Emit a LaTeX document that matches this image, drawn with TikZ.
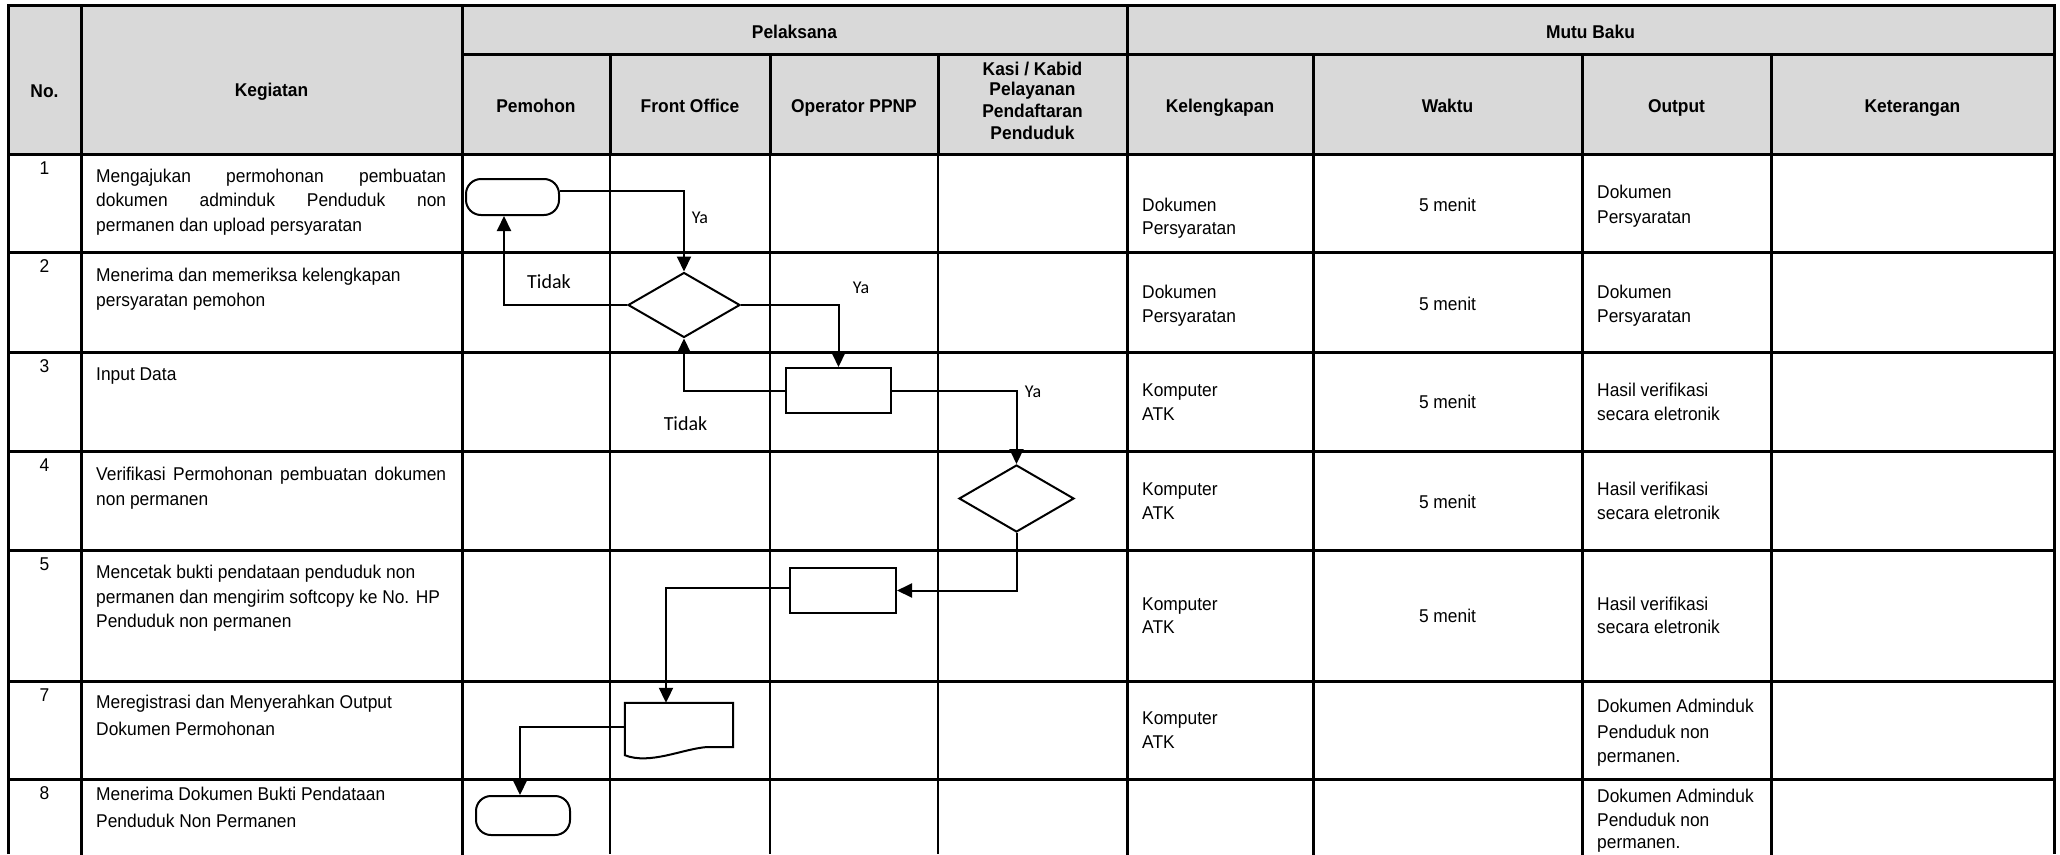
\documentclass[tikz,border=0pt]{standalone}
\usepackage{fontspec}
\setmainfont{Liberation Sans}[FakeStretch=0.94]
\newfontfamily\calib{Carlito}
\usetikzlibrary{shapes.geometric,arrows.meta,calc}
\definecolor{hdr}{HTML}{D9D9D9}
\newcounter{ln}
\newcommand\lnL[3]{\stepcounter{ln}\node[txt,anchor=base west] (L\theln) at (#1,#2) {#3};}
\newcommand\lnC[3]{\stepcounter{ln}\node[txt,anchor=base] (L\theln) at (#1,#2) {#3};}
\newcommand\lnH[3]{\stepcounter{ln}\node[txt,font=\fontsize{18.5}{22}\selectfont\bfseries,anchor=base] (L\theln) at (#1,#2) {#3};}
\begin{document}
\begin{tikzpicture}[x=1pt,y=-1pt,
  txt/.style={inner sep=0pt,font=\fontsize{18.5}{24}\selectfont},
  thickgrid/.style={line width=3pt,line cap=rect},
  thingrid/.style={line width=2pt},
  shp/.style={draw,line width=2pt,fill=white,inner sep=0pt},
  term/.style={shp,rectangle,rounded corners=15pt},
  proc/.style={shp,rectangle},
  dec/.style={shp,diamond},
  arr/.style={line width=2pt,-{Triangle[length=15pt,width=14pt]}},
  lab/.style={inner sep=0pt,font=\calib\fontsize{18}{20}\selectfont},
  labb/.style={inner sep=0pt,font=\calib\fontsize{20}{22}\selectfont},
  ]
\useasboundingbox (0,0) rectangle (2060,854);
\fill[hdr] (8,5) rectangle (2054,154);
% grid
\draw[line width=3pt] (8,854) -- (8,5) -- (2054,5) -- (2054,854);
\draw[thickgrid] (462,54) -- (2054,54);
\foreach \y in {154,252,352,451,550,681,779} \draw[thickgrid] (8,\y) -- (2054,\y);
\foreach \x in {81,462,1127} \draw[thickgrid] (\x,5) -- (\x,854);
\foreach \x in {1313,1582,1771} \draw[thickgrid] (\x,54) -- (\x,854);
\foreach \x in {610,770,938} {\draw[thickgrid] (\x,54) -- (\x,154); \draw[thingrid] (\x,154) -- (\x,854);}
% shapes
\node[term,minimum width=93pt,minimum height=36pt] (t1) at (512.5,197) {};
\node[dec,minimum width=112pt,minimum height=65pt] (d1) at (684,305) {};
\node[proc,minimum width=105pt,minimum height=45pt] (r1) at (838.5,390.5) {};
\node[dec,minimum width=115pt,minimum height=67pt] (d2) at (1016.5,498.5) {};
\node[proc,minimum width=106pt,minimum height=45pt] (r2) at (843,590.5) {};
\node[inner sep=0pt,minimum width=108pt,minimum height=52pt] (doc) at (679,729) {};
\draw[line width=2pt,fill=white] (doc.south west) -- (doc.north west) -- (doc.north east) -- ([yshift=8pt]doc.south east) -- (707,747) .. controls (682,749) and (650,765) .. (doc.south west) -- cycle;
\node[term,minimum width=94pt,minimum height=39pt] (t2) at (523,815.5) {};
% connectors
\draw[arr] ([yshift=6pt]t1.east) -| (d1.north);
\draw[arr] (d1.west) -| ([xshift=-8.5pt]t1.south);
\draw[arr] (d1.east) -| (r1.north);
\draw[arr] (r1.west) -| (d1.south);
\draw[arr] (r1.east) -| (d2.north);
\draw[arr] (d2.south) |- (r2.east);
\draw[arr] ([yshift=3pt]r2.west) -| ([xshift=-13pt]doc.north);
\draw[arr] ([yshift=2pt]doc.west) -| ([xshift=-3pt]t2.north);
% labels
\node[lab,anchor=base] (ya1) at (700,223) {Ya};
\node[labb,anchor=base] (td1) at (549,288) {Tidak};
\node[lab,anchor=base] (ya2) at (861,293) {Ya};
\node[labb,anchor=base] (td2) at (685.5,430) {Tidak};
\node[lab,anchor=base] (ya3) at (1033,397) {Ya};
% header
\lnH{44.5}{97}{No.}
\lnH{271.5}{96}{Kegiatan}
\lnH{794.5}{38}{Pelaksana}
\lnH{1590.5}{38}{Mutu Baku}
\lnH{536}{112}{Pemohon}
\lnH{690}{112}{Front Office}
\lnH{854}{112}{Operator PPNP}
\lnH{1032.5}{75}{Kasi / Kabid}
\lnH{1032.5}{95}{Pelayanan}
\lnH{1032.5}{117}{Pendaftaran}
\lnH{1032.5}{139}{Penduduk}
\lnH{1220}{112}{Kelengkapan}
\lnH{1447.5}{112}{Waktu}
\lnH{1676.5}{112}{Output}
\lnH{1912.5}{112}{Keterangan}
% numbers
\lnC{44.5}{174}{1}
\lnC{44.5}{272}{2}
\lnC{44.5}{372}{3}
\lnC{44.5}{471}{4}
\lnC{44.5}{570}{5}
\lnC{44.5}{701}{7}
\lnC{44.5}{799}{8}
% kegiatan
\lnL{96}{182}{\makebox[350pt][s]{Mengajukan permohonan pembuatan}}
\lnL{96}{206}{\makebox[350pt][s]{dokumen adminduk Penduduk non}}
\lnL{96}{231}{permanen dan upload persyaratan}
\lnL{96}{281}{Menerima dan memeriksa kelengkapan}
\lnL{96}{306}{persyaratan pemohon}
\lnL{96}{380}{Input Data}
\lnL{96}{480}{\makebox[350pt][s]{Verifikasi Permohonan pembuatan dokumen}}
\lnL{96}{505}{non permanen}
\lnL{96}{578}{Mencetak bukti pendataan penduduk non}
\lnL{96}{603}{permanen dan mengirim softcopy ke No. HP}
\lnL{96}{627}{Penduduk non permanen}
\lnL{96}{708}{Meregistrasi dan Menyerahkan Output}
\lnL{96}{735}{Dokumen Permohonan}
\lnL{96}{800}{Menerima Dokumen Bukti Pendataan}
\lnL{96}{827}{Penduduk Non Permanen}
% kelengkapan
\lnL{1142}{211}{Dokumen}
\lnL{1142}{234}{Persyaratan}
\lnL{1142}{298}{Dokumen}
\lnL{1142}{322}{Persyaratan}
\lnL{1142}{396}{Komputer}
\lnL{1142}{420}{ATK}
\lnL{1142}{495}{Komputer}
\lnL{1142}{519}{ATK}
\lnL{1142}{610}{Komputer}
\lnL{1142}{633}{ATK}
\lnL{1142}{724}{Komputer}
\lnL{1142}{748}{ATK}
% waktu
\lnC{1447.5}{211}{5 menit}
\lnC{1447.5}{310}{5 menit}
\lnC{1447.5}{408}{5 menit}
\lnC{1447.5}{508}{5 menit}
\lnC{1447.5}{622}{5 menit}
% output
\lnL{1597}{198}{Dokumen}
\lnL{1597}{223}{Persyaratan}
\lnL{1597}{298}{Dokumen}
\lnL{1597}{322}{Persyaratan}
\lnL{1597}{396}{Hasil verifikasi}
\lnL{1597}{420}{secara eletronik}
\lnL{1597}{495}{Hasil verifikasi}
\lnL{1597}{519}{secara eletronik}
\lnL{1597}{610}{Hasil verifikasi}
\lnL{1597}{633}{secara eletronik}
\lnL{1597}{712}{Dokumen Adminduk}
\lnL{1597}{738}{Penduduk non}
\lnL{1597}{762}{permanen.}
\lnL{1597}{802}{Dokumen Adminduk}
\lnL{1597}{826}{Penduduk non}
\lnL{1597}{848}{permanen.}
\end{tikzpicture}
\end{document}
